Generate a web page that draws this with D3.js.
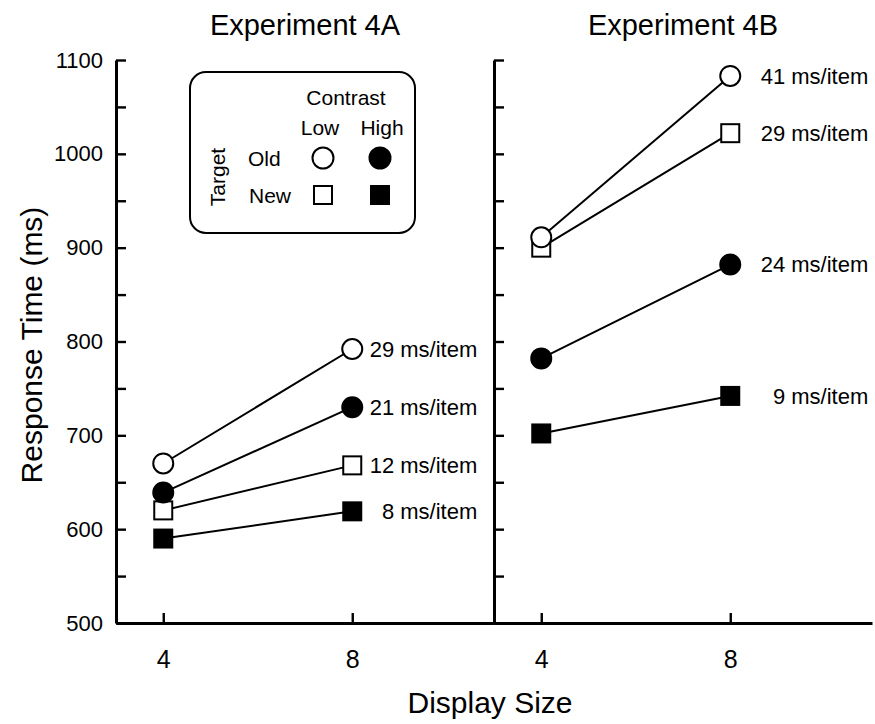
<!DOCTYPE html>
<html>
<head>
<meta charset="utf-8">
<script src="https://cdn.jsdelivr.net/npm/d3@7"></script>
<style>
  body { margin: 0; background: #fff; }
  svg { display: block; font-family: "Liberation Sans", Arial, Helvetica, sans-serif; }
</style>
</head>
<body>
<svg width="875" height="724"></svg>
<script>
(function (d3) {
  'use strict';

  // ---- data ----
  const displaySizes = [4, 8];
  const yTickValues = [500, 600, 700, 800, 900, 1000, 1100];
  const conditions = ['Old-Low', 'Old-High', 'New-Low', 'New-High'];

  // Experiment 4A, response time in ms at display size 4 and 8
  const exp4AOldLow = [670, 792];
  const exp4AOldHigh = [639, 730];
  const exp4ANewLow = [620, 668];
  const exp4ANewHigh = [590, 619];
  const slopes4A = ['29 ms/item', '21 ms/item', '12 ms/item', '8 ms/item'];

  // Experiment 4B
  const exp4BOldLow = [911, 1083];
  const exp4BOldHigh = [782, 882];
  const exp4BNewLow = [900, 1022];
  const exp4BNewHigh = [702, 742];
  const slopes4B = ['41 ms/item', '24 ms/item', '29 ms/item', '9 ms/item'];

  const panels = [
    { title: 'Experiment 4A', series: [exp4AOldLow, exp4AOldHigh, exp4ANewLow, exp4ANewHigh], slopes: slopes4A, labelEnd: 125 },
    { title: 'Experiment 4B', series: [exp4BOldLow, exp4BOldHigh, exp4BNewLow, exp4BNewHigh], slopes: slopes4B, labelEnd: 138 }
  ];

  // marker look per condition: Old = circle, New = square; Low = open, High = filled
  const shapeOf = c => c.startsWith('Old') ? 'circle' : 'square';
  const fillOf = c => c.endsWith('High') ? '#000' : '#fff';

  const svg = d3.select('svg');
  const margin = { left: 116, top: 60, bottom: 101 };
  const panelWidth = 378;
  const height = +svg.attr('height');
  const innerHeight = height - margin.top - margin.bottom;
  const circleR = 10;
  const squareS = 18;

  const x = d3.scaleLinear().domain([3, 11]).range([0, panelWidth]);
  const y = d3.scaleLinear().domain([500, 1100]).range([innerHeight, 0]);

  const drawMarker = (g, shape, fill, cx, cy, r, s) => {
    if (shape === 'circle') {
      g.append('circle')
        .attr('cx', cx).attr('cy', cy).attr('r', r)
        .attr('fill', fill).attr('stroke', '#000').attr('stroke-width', 2);
    } else {
      g.append('rect')
        .attr('x', cx - s / 2).attr('y', cy - s / 2)
        .attr('width', s).attr('height', s)
        .attr('fill', fill).attr('stroke', '#000').attr('stroke-width', 2);
    }
  };

  panels.forEach((panel, pi) => {
    const g = svg.append('g')
      .attr('transform', `translate(${margin.left + pi * panelWidth}, ${margin.top})`);

    // y axis (labels only on the left panel)
    const yAxis = d3.axisLeft(y)
      .tickValues(d3.range(500, 1101, 50))
      .tickSize(-10)
      .tickSizeOuter(0)
      .tickPadding(13)
      .tickFormat(d => (pi === 0 && yTickValues.includes(d)) ? d : '');

    const yAxisG = g.append('g').attr('class', 'y-axis').call(yAxis);
    yAxisG.select('.domain').attr('stroke-width', 3);
    yAxisG.selectAll('.tick line').attr('stroke-width', 2.4);
    yAxisG.selectAll('.tick text')
      .attr('font-size', 22)
      .attr('font-family', null)
      .attr('fill', '#000');

    // x axis
    const xAxis = d3.axisBottom(x)
      .tickValues(displaySizes)
      .tickSize(-10)
      .tickSizeOuter(0)
      .tickPadding(27);

    const xAxisG = g.append('g').attr('class', 'x-axis')
      .attr('transform', `translate(0, ${innerHeight})`)
      .call(xAxis);
    xAxisG.select('.domain').attr('stroke-width', 3);
    xAxisG.selectAll('.tick line').attr('stroke-width', 2.4);
    xAxisG.selectAll('.tick text')
      .attr('font-size', 25)
      .attr('font-family', null)
      .attr('fill', '#000');

    // panel title
    g.append('text')
      .attr('x', panelWidth / 2)
      .attr('y', 35 - margin.top)
      .attr('text-anchor', 'middle')
      .attr('font-size', 29)
      .text(panel.title);

    // lines
    const line = d3.line()
      .x((d, i) => x(displaySizes[i]))
      .y(d => y(d));

    g.selectAll('.series-line')
      .data(panel.series)
      .enter().append('path')
      .attr('class', 'series-line')
      .attr('d', line)
      .attr('fill', 'none')
      .attr('stroke', '#000')
      .attr('stroke-width', 2);

    // markers: squares first, circles on top
    const order = [3, 2, 1, 0];
    order.forEach(ci => {
      const c = conditions[ci];
      panel.series[ci].forEach((v, i) => {
        drawMarker(g, shapeOf(c), fillOf(c), x(displaySizes[i]), y(v), circleR, squareS);
      });
    });

    // slope labels
    g.selectAll('.slope')
      .data(panel.series)
      .enter().append('text')
      .attr('class', 'slope')
      .attr('x', x(displaySizes[1]) + panel.labelEnd)
      .attr('y', d => y(d[1]))
      .attr('dy', '0.35em')
      .attr('text-anchor', 'end')
      .attr('font-size', 22)
      .text((d, i) => panel.slopes[i]);
  });

  // axis titles
  svg.append('text')
    .attr('transform', 'rotate(-90)')
    .attr('x', -345)
    .attr('y', 42)
    .attr('text-anchor', 'middle')
    .attr('font-size', 30)
    .text('Response Time (ms)');

  svg.append('text')
    .attr('x', 490)
    .attr('y', 713)
    .attr('text-anchor', 'middle')
    .attr('font-size', 30)
    .text('Display Size');

  // legend
  const legend = svg.append('g').attr('class', 'legend');
  legend.append('rect')
    .attr('x', 190).attr('y', 72)
    .attr('width', 225).attr('height', 161)
    .attr('rx', 16).attr('ry', 16)
    .attr('fill', '#fff').attr('stroke', '#000').attr('stroke-width', 2);

  legend.append('text').attr('x', 346).attr('y', 105)
    .attr('text-anchor', 'middle').attr('font-size', 21).text('Contrast');
  legend.append('text').attr('x', 320).attr('y', 135)
    .attr('text-anchor', 'middle').attr('font-size', 21).text('Low');
  legend.append('text').attr('x', 382).attr('y', 135)
    .attr('text-anchor', 'middle').attr('font-size', 21).text('High');
  legend.append('text').attr('x', 248).attr('y', 166)
    .attr('font-size', 21).text('Old');
  legend.append('text').attr('x', 249).attr('y', 203)
    .attr('font-size', 21).text('New');
  legend.append('text')
    .attr('transform', 'translate(225, 177) rotate(-90)')
    .attr('text-anchor', 'middle').attr('font-size', 21).text('Target');

  const legendX = { Low: 323, High: 380 };
  const legendY = { Old: 158, New: 195 };
  conditions.forEach(c => {
    const [target, contrast] = c.split('-');
    drawMarker(legend, shapeOf(c), fillOf(c), legendX[contrast], legendY[target], 10.5, 18);
  });

}(d3));
</script>
</body>
</html>
